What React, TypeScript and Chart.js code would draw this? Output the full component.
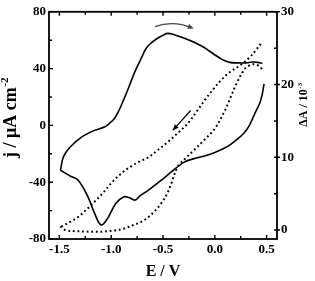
import React, { useEffect, useRef } from 'react';
import { Chart, registerables } from 'chart.js';
Chart.register(...registerables);

// Cyclic voltammogram (solid, left axis)
// reverse (cathodic) branch, from +0.47 V down to -1.49 V
const E_SOLID_REV = [0.475, 0.455, 0.43, 0.40, 0.365, 0.33, 0.28, 0.22, 0.15, 0.08, 0.0, -0.1, -0.2, -0.3, -0.42, -0.516, -0.64, -0.72, -0.767, -0.80, -0.83, -0.877, -0.956, -1.035, -1.097, -1.16, -1.224, -1.318, -1.40, -1.49];
const J_SOLID_REV = [29.3, 21, 15, 10.5, 5, -0.5, -5.5, -9.5, -13.5, -16.5, -19, -21.5, -23.4, -26, -32.8, -38.6, -45.6, -49.5, -52.6, -51.8, -50.8, -50.3, -55, -65.5, -70.2, -62, -50.3, -38.6, -35.5, -31.6];
// forward (anodic) branch, from -1.49 V up to +0.46 V
const E_SOLID_FWD = [-1.49, -1.46, -1.396, -1.286, -1.16, -1.06, -1.02, -0.97, -0.925, -0.88, -0.83, -0.77, -0.705, -0.665, -0.625, -0.56, -0.5, -0.453, -0.38, -0.3, -0.2, -0.107, -0.012, 0.07, 0.144, 0.22, 0.302, 0.36, 0.412, 0.459];
const J_SOLID_FWD = [-31.6, -22, -15.2, -8.2, -3.5, -1, 1.2, 4.7, 10.5, 18, 26.9, 38, 48, 54, 57.3, 61, 63.5, 64.8, 63.5, 61.5, 58.5, 55, 50.3, 46.5, 44.4, 44, 44, 44.6, 44.4, 43.7];

// Absorbance change (dotted, right axis)
const E_DOT_FWD = [-1.49, -1.443, -1.35, -1.255, -1.15, -1.066, -0.97, -0.877, -0.783, -0.70, -0.64, -0.58, -0.516, -0.46, -0.42, -0.358, -0.28, -0.2, -0.107, 0.003, 0.082, 0.113, 0.16, 0.208, 0.286, 0.33, 0.38, 0.42, 0.459];
const DA_DOT_FWD = [0.5, 0.0, -0.15, -0.2, -0.25, -0.2, -0.05, 0.2, 0.7, 1.2, 1.8, 2.6, 3.7, 5.0, 6.4, 8.7, 9.9, 11.0, 12.3, 14.0, 16.0, 16.9, 18.5, 20.1, 22.1, 22.6, 22.8, 22.6, 22.1];
const E_DOT_REV = [0.443, 0.40, 0.333, 0.239, 0.144, 0.06, -0.012, -0.09, -0.17, -0.264, -0.36, -0.453, -0.55, -0.64, -0.73, -0.814, -0.9, -1.003, -1.08, -1.16, -1.24, -1.318, -1.4, -1.49];
const DA_DOT_REV = [25.6, 24.8, 23.7, 22.6, 21.7, 20.6, 19.4, 18.0, 16.4, 14.6, 13.3, 12.1, 11.0, 10.0, 9.4, 8.7, 7.8, 6.4, 5.1, 3.9, 2.8, 1.8, 1.1, 0.4];

// Scan-direction arrows (data coordinates, left axis)
const ARROW_TOP_E = [-0.578, -0.40, -0.218];
const ARROW_TOP_J = [69.5, 71.6, 68.6];
const ARROW_MID_E = [-0.233, -0.406];
const ARROW_MID_J = [10.5, -3.5];

const X_TICKS = [-1.5, -1.0, -0.5, 0.0, 0.5];
const X_MINOR = [-1.25, -0.75, -0.25, 0.25];
const Y_TICKS = [-80, -40, 0, 40, 80];
const Y_MINOR = [-60, -20, 20, 60];
const Y2_TICKS = [0, 10, 20, 30];
const Y2_MINOR = [5, 15, 25];

const X_TITLE = 'E / V';
const Y_TITLE = 'j / μA cm';
const Y_TITLE_SUP = '-2';
const Y2_TITLE = 'ΔA / 10';
const Y2_TITLE_SUP = '-3';

const SERIF = '"Liberation Serif", "Times New Roman", serif';

function drawSupText(ctx: CanvasRenderingContext2D, main: string, sup: string, cx: number, cy: number, size: number, rot: number) {
  ctx.save();
  ctx.translate(cx, cy);
  ctx.rotate(rot);
  ctx.fillStyle = '#000';
  ctx.textBaseline = 'alphabetic';
  ctx.textAlign = 'left';
  const mainFont = `bold ${size}px ${SERIF}`;
  const supSize = Math.round(size * 0.62);
  const supFont = `bold ${supSize}px ${SERIF}`;
  ctx.font = mainFont;
  const w1 = ctx.measureText(main).width;
  ctx.font = supFont;
  const w2 = sup ? ctx.measureText(sup).width : 0;
  const start = -(w1 + w2) / 2;
  const base = size * 0.33;
  ctx.font = mainFont;
  ctx.fillText(main, start, base);
  if (sup) {
    ctx.font = supFont;
    ctx.fillText(sup, start + w1 + 0.5, base - size * 0.42);
  }
  ctx.restore();
}

const framePlugin = {
  id: 'framePlugin',
  afterDraw(chart: any) {
    const ctx: CanvasRenderingContext2D = chart.ctx;
    const { left, right, top, bottom } = chart.chartArea;
    const xs = chart.scales.x;
    const ys = chart.scales.y;
    const y2 = chart.scales.y1;
    ctx.save();
    ctx.strokeStyle = '#000';
    ctx.lineWidth = 1.8;
    ctx.strokeRect(left, top, right - left, bottom - top);
    ctx.lineWidth = 1.4;
    ctx.beginPath();
    const xt = (v: number, len: number) => {
      const p = xs.getPixelForValue(v);
      ctx.moveTo(p, bottom); ctx.lineTo(p, bottom - len);
      ctx.moveTo(p, top); ctx.lineTo(p, top + len);
    };
    X_TICKS.forEach(v => xt(v, 4));
    X_MINOR.forEach(v => xt(v, 3));
    const yt = (v: number, len: number) => {
      const p = ys.getPixelForValue(v);
      ctx.moveTo(left, p); ctx.lineTo(left + len, p);
    };
    Y_TICKS.forEach(v => yt(v, 4));
    Y_MINOR.forEach(v => yt(v, 3));
    const y2t = (v: number, inLen: number, outLen: number) => {
      const p = y2.getPixelForValue(v);
      ctx.moveTo(right - inLen, p); ctx.lineTo(right + outLen, p);
    };
    Y2_TICKS.forEach(v => y2t(v, 3, 3));
    Y2_MINOR.forEach(v => y2t(v, 3, 0));
    ctx.stroke();

    // arrows
    const px = (e: number) => xs.getPixelForValue(e);
    const py = (j: number) => ys.getPixelForValue(j);
    const head = (tx: number, ty: number, fx: number, fy: number, color: string) => {
      const ang = Math.atan2(ty - fy, tx - fx);
      const L = 6, W = 2.6;
      ctx.fillStyle = color;
      ctx.beginPath();
      ctx.moveTo(tx, ty);
      ctx.lineTo(tx - L * Math.cos(ang) + W * Math.sin(ang), ty - L * Math.sin(ang) - W * Math.cos(ang));
      ctx.lineTo(tx - L * Math.cos(ang) - W * Math.sin(ang), ty - L * Math.sin(ang) + W * Math.cos(ang));
      ctx.closePath();
      ctx.fill();
    };
    const p0x = px(ARROW_TOP_E[0]), p0y = py(ARROW_TOP_J[0]);
    const amx = px(ARROW_TOP_E[1]), amy = py(ARROW_TOP_J[1]);
    const p2x = px(ARROW_TOP_E[2]), p2y = py(ARROW_TOP_J[2]);
    const cx = 2 * amx - (p0x + p2x) / 2, cy = 2 * amy - (p0y + p2y) / 2;
    ctx.strokeStyle = '#444';
    ctx.lineWidth = 1.3;
    ctx.beginPath();
    ctx.moveTo(p0x, p0y);
    ctx.quadraticCurveTo(cx, cy, p2x, p2y);
    ctx.stroke();
    head(p2x + 1.5, p2y + 0.6, cx, cy, '#444');
    const a0x = px(ARROW_MID_E[0]), a0y = py(ARROW_MID_J[0]);
    const a1x = px(ARROW_MID_E[1]), a1y = py(ARROW_MID_J[1]);
    ctx.strokeStyle = '#000';
    ctx.lineWidth = 1.2;
    ctx.beginPath();
    ctx.moveTo(a0x, a0y);
    ctx.lineTo(a1x, a1y);
    ctx.stroke();
    head(a1x, a1y, a0x, a0y, '#000');

    // titles
    drawSupText(ctx, X_TITLE, '', 163, 271, 16, 0);
    drawSupText(ctx, Y_TITLE, Y_TITLE_SUP, 10, 118, 18, -Math.PI / 2);
    drawSupText(ctx, Y2_TITLE, Y2_TITLE_SUP, 303, 105, 12, -Math.PI / 2);
    ctx.restore();
  },
};

export default function App() {
  const ref = useRef<HTMLCanvasElement | null>(null);
  useEffect(() => {
    if (!ref.current) return;
    const tickFont = { family: SERIF, size: 13, weight: 'bold' as const };
    const sRev = E_SOLID_REV.map((e, i) => ({ x: e, y: J_SOLID_REV[i] }));
    const sFwd = E_SOLID_FWD.map((e, i) => ({ x: e, y: J_SOLID_FWD[i] }));
    const dFwd = E_DOT_FWD.map((e, i) => ({ x: e, y: DA_DOT_FWD[i] }));
    const dRev = E_DOT_REV.map((e, i) => ({ x: e, y: DA_DOT_REV[i] }));
    const noGrid = { display: false, drawTicks: false, tickLength: 0 };
    const solidStyle = { yAxisID: 'y', showLine: true, borderColor: '#000', borderWidth: 1.6, pointRadius: 0, tension: 0.35 };
    const dotStyle = { yAxisID: 'y1', showLine: true, borderColor: '#000', borderWidth: 2, borderDash: [1.8, 2.8], pointRadius: 0, tension: 0.35 };
    const chart = new Chart(ref.current, {
      type: 'scatter',
      data: {
        datasets: [
          { data: sRev, ...solidStyle },
          { data: sFwd, ...solidStyle },
          { data: dFwd, ...dotStyle },
          { data: dRev, ...dotStyle },
        ],
      },
      options: {
        responsive: false,
        animation: false,
        events: [],
        layout: { padding: { top: 11, left: 0, right: 0, bottom: 0 } },
        plugins: { legend: { display: false }, tooltip: { enabled: false } },
        scales: {
          x: {
            type: 'linear', position: 'bottom', min: -1.6, max: 0.6,
            grid: noGrid, border: { display: false },
            ticks: { font: tickFont, color: '#000', padding: 3, maxRotation: 0, autoSkip: false, callback: (v: any) => Number(v).toFixed(1) },
            afterBuildTicks: (s: any) => { s.ticks = X_TICKS.map(value => ({ value })); },
            afterFit: (s: any) => { s.height = 42; },
          },
          y: {
            type: 'linear', position: 'left', min: -80, max: 80,
            grid: noGrid, border: { display: false },
            ticks: { font: tickFont, color: '#000', padding: 3, autoSkip: false, callback: (v: any) => String(v) },
            afterBuildTicks: (s: any) => { s.ticks = Y_TICKS.map(value => ({ value })); },
            afterFit: (s: any) => { s.width = 49; },
          },
          y1: {
            type: 'linear', position: 'right', min: -1.23, max: 30,
            grid: noGrid, border: { display: false },
            ticks: { font: tickFont, color: '#000', padding: 4, autoSkip: false, callback: (v: any) => String(v) },
            afterBuildTicks: (s: any) => { s.ticks = Y2_TICKS.map(value => ({ value })); },
            afterFit: (s: any) => { s.width = 38; },
          },
        },
      },
      plugins: [framePlugin],
    });
    return () => chart.destroy();
  }, []);
  return (
    <div style={{ position: 'fixed', left: 0, top: 0, width: 315, height: 281, background: '#fff' }}>
      <canvas ref={ref} width={315} height={281} style={{ display: 'block' }} />
    </div>
  );
}
